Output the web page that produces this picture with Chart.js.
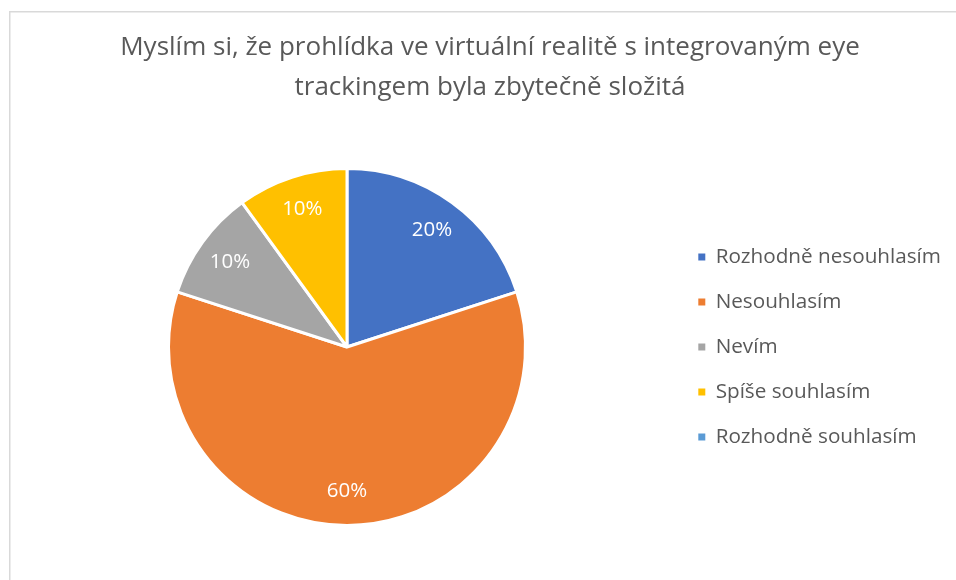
<!DOCTYPE html>
<html>
<head>
<meta charset="utf-8">
<script src="https://cdn.jsdelivr.net/npm/chart.js@4/dist/chart.umd.min.js"></script>
<style>
  html, body { margin: 0; padding: 0; background: #ffffff; overflow: hidden; }
  #wrap { position: absolute; left: 0; top: 0; width: 960px; height: 580px; }
</style>
</head>
<body>
<div id="wrap"><canvas id="c" width="960" height="580"></canvas></div>
<script>
const titleLines = ['Myslím si, že prohlídka ve virtuální realitě s integrovaným eye', 'trackingem byla zbytečně složitá'];
const categories = ['Rozhodně nesouhlasím', 'Nesouhlasím', 'Nevím', 'Spíše souhlasím', 'Rozhodně souhlasím'];
const percentages = [20, 60, 10, 10, 0];
const sliceColors = ['#4472C4', '#ED7D31', '#A5A5A5', '#FFC000', '#5B9BD5'];

const FONT = '"Open Sans", Lato, sans-serif';
const TEXT_COLOR = '#595959';
const LEGEND_W = 286;

const framePlugin = {
  id: 'frame',
  beforeDraw(chart) {
    const ctx = chart.ctx;
    ctx.save();
    ctx.fillStyle = '#ffffff';
    ctx.fillRect(0, 0, chart.width, chart.height);
    ctx.fillStyle = '#d9d9d9';
    ctx.fillRect(9, 11, chart.width, 1.5);
    ctx.fillRect(9, 11, 1.5, chart.height);
    ctx.restore();
  }
};

const legendWidthPlugin = {
  id: 'legendWidth',
  beforeLayout(chart) {
    const lg = chart.legend;
    if (lg && !lg._fixedW) {
      const f = lg.fit;
      lg.fit = function () { f.call(this); this.width = LEGEND_W; };
      lg._fixedW = true;
    }
  }
};

const labelPlugin = {
  id: 'sliceLabels',
  afterDatasetsDraw(chart) {
    const ctx = chart.ctx;
    const meta = chart.getDatasetMeta(0);
    const ds = chart.data.datasets[0];
    ctx.save();
    ctx.font = '20.5px ' + FONT;
    ctx.fillStyle = '#ffffff';
    ctx.textAlign = 'center';
    ctx.textBaseline = 'middle';
    meta.data.forEach((arc, i) => {
      const v = ds.data[i];
      if (!v) return;
      const p = arc.getProps(['x', 'y', 'startAngle', 'endAngle', 'outerRadius'], true);
      const mid = (p.startAngle + p.endAngle) / 2;
      const r = p.outerRadius * 0.81;
      ctx.fillText(v + '%', p.x + Math.cos(mid) * r, p.y + Math.sin(mid) * r);
    });
    ctx.restore();
  }
};

new Chart(document.getElementById('c'), {
  type: 'pie',
  data: {
    labels: categories,
    datasets: [{
      data: percentages,
      backgroundColor: sliceColors,
      borderColor: '#ffffff',
      borderWidth: 3
    }]
  },
  options: {
    responsive: false,
    animation: false,
    layout: { padding: { left: 20, right: 0, top: 14, bottom: 53 } },
    plugins: {
      title: {
        display: true,
        text: titleLines,
        color: TEXT_COLOR,
        font: { family: FONT, size: 26, weight: 'normal', lineHeight: 40 / 26 },
        padding: { top: 14, bottom: 59 }
      },
      legend: {
        position: 'right',
        fullSize: false,
        labels: {
          color: TEXT_COLOR,
          font: { family: FONT, size: 20.7 },
          boxWidth: 7,
          boxHeight: 7,
          padding: 24.3,
          generateLabels(chart) {
            return chart.data.labels.map((l, i) => ({
              text: l,
              fillStyle: sliceColors[i],
              strokeStyle: sliceColors[i],
              lineWidth: 0,
              hidden: false,
              index: i,
              fontColor: TEXT_COLOR
            }));
          }
        }
      },
      tooltip: { enabled: false }
    }
  },
  plugins: [framePlugin, legendWidthPlugin, labelPlugin]
});
</script>
</body>
</html>
